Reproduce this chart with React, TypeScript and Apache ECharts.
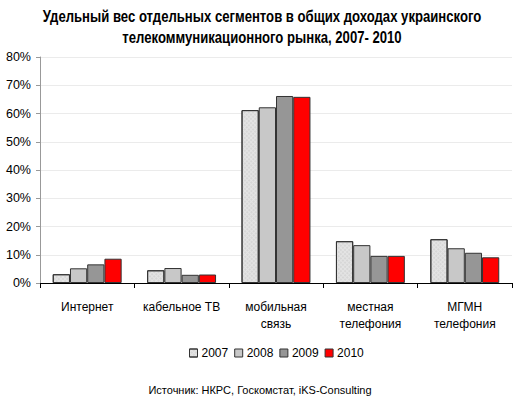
import React, { useEffect, useRef } from "react";
import * as echarts from "echarts";

const categories = ["Интернет", "кабельное ТВ", "мобильная\nсвязь", "местная\nтелефония", "МГМН\nтелефония"];
const years = ["2007", "2008", "2009", "2010"];
const v2007 = [3.1, 4.5, 61.2, 14.8, 15.5];
const v2008 = [5.2, 5.3, 62.2, 13.4, 12.3];
const v2009 = [6.6, 2.9, 66.2, 9.6, 10.7];
const v2010 = [8.6, 3.0, 65.9, 9.6, 9.1];
const yTicks = [0, 10, 20, 30, 40, 50, 60, 70, 80];
const titleLines = ["Удельный вес отдельных сегментов в общих доходах украинского", "телекоммуникационного рынка, 2007- 2010"];
const sourceText = "Источник: НКРС, Госкомстат, iKS-Consulting";

const colors = ["#e4e4e4", "#c8c8c8", "#969696", "#ff0000"];
const FONT = "'Liberation Sans', Arial, sans-serif";

export default function App() {
  const ref = useRef<HTMLDivElement>(null);
  useEffect(() => {
    const chart = echarts.init(ref.current!, null, { renderer: "svg" });
    const data = [v2007, v2008, v2009, v2010];
    chart.setOption({
      animation: false,
      backgroundColor: "#ffffff",
      legend: {
        data: years,
        left: 184,
        top: 342,
        icon: "rect",
        itemWidth: 8,
        itemHeight: 8,
        itemGap: 6,
        itemStyle: { borderColor: "#333", borderWidth: 1 },
        textStyle: { fontFamily: FONT, fontSize: 12, color: "#000", padding: [0, 0, 0, -1] },
      },
      graphic: [
        {
          type: "text",
          x: 262,
          y: 17,
          scaleX: 0.82,
          style: {
            text: titleLines[0],
            fontFamily: FONT,
            fontSize: 16,
            fontWeight: "bold",
            fill: "#000",
            align: "center",
            verticalAlign: "middle",
          },
        },
        {
          type: "text",
          x: 262,
          y: 38,
          scaleX: 0.82,
          style: {
            text: titleLines[1],
            fontFamily: FONT,
            fontSize: 16,
            fontWeight: "bold",
            fill: "#000",
            align: "center",
            verticalAlign: "middle",
          },
        },
        {
          type: "text",
          x: 260,
          y: 390,
          style: {
            text: sourceText,
            fontFamily: FONT,
            fontSize: 11,
            fill: "#000",
            align: "center",
            verticalAlign: "middle",
          },
        },
      ],
      grid: { left: 40, right: 11, top: 57, bottom: 115 },
      xAxis: {
        type: "category",
        data: categories,
        axisLine: { lineStyle: { color: "#000", width: 1 } },
        axisTick: { show: true, length: 5, lineStyle: { color: "#000" } },
        axisLabel: { fontFamily: FONT, fontSize: 12, color: "#000", margin: 15, lineHeight: 17, interval: 0 },
      },
      yAxis: {
        type: "value",
        min: 0,
        max: 80,
        interval: 10,
        axisLine: { show: true, lineStyle: { color: "#999" } },
        axisTick: { show: true, length: 4, lineStyle: { color: "#999" } },
        splitLine: { lineStyle: { color: "#ebebeb" } },
        axisLabel: {
          fontFamily: FONT,
          fontSize: 12.5,
          color: "#000",
          margin: 9,
          formatter: (v: number) => (yTicks.includes(v) ? v + "%" : ""),
        },
      },
      series: years.map((y, i) => ({
        name: y,
        type: "bar",
        data: data[i],
        barGap: "0%",
        barCategoryGap: "27%",
        itemStyle: {
          color: colors[i],
          borderColor: "#333",
          borderWidth: 1,
          decal:
            i === 0
              ? { symbol: "circle", symbolSize: 0.7, color: "rgba(170,170,170,0.6)", dashArrayX: [2, 1], dashArrayY: [2, 1], rotation: 0.78 }
              : "none",
        },
      })),
      aria: { enabled: false, decal: { show: true } },
    });
    return () => chart.dispose();
  }, []);
  return <div ref={ref} style={{ position: "absolute", left: 0, top: 0, width: 523, height: 398 }} />;
}
